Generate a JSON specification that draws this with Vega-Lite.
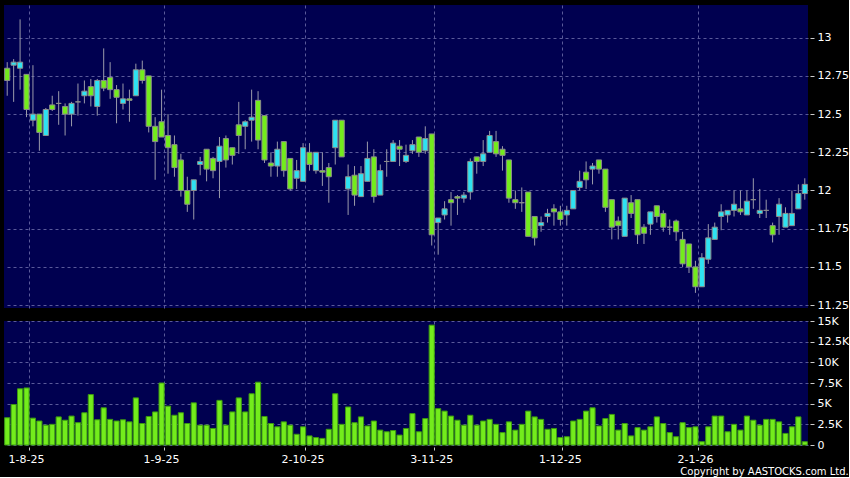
{
  "$schema": "https://vega.github.io/schema/vega-lite/v6.json",
  "background": "#000000",
  "padding": {"left": 4, "top": 5, "right": 0, "bottom": 0},
  "autosize": {"type": "pad"},
  "config": {
    "view": {"fill": "#000050", "stroke": null},
    "font": "DejaVu Sans",
    "axis": {"labelColor": "#ffffff", "labelFont": "DejaVu Sans", "labelFontSize": 11, "gridColor": "#5a5a9a", "gridDash": [3, 3], "gridWidth": 1, "domain": false, "tickColor": "#cccccc", "title": null},
    "concat": {"spacing": 4}
  },
  "title": {"text": "Copyright by AASTOCKS.com Ltd.", "orient": "bottom", "anchor": "end", "color": "#ffffff", "font": "DejaVu Sans", "fontSize": 10, "fontWeight": "normal", "offset": 3},
  "datasets": {
    "k": [
      {"d":"29-7-25","o":12.80,"h":12.84,"l":12.62,"c":12.72,"v":3300},
      {"d":"30-7-25","o":12.82,"h":12.86,"l":12.58,"c":12.84,"v":4900},
      {"d":"31-7-25","o":12.80,"h":13.12,"l":12.66,"c":12.84,"v":6800},
      {"d":"1-8-25","o":12.76,"h":12.76,"l":12.48,"c":12.53,"v":6900},
      {"d":"4-8-25","o":12.46,"h":12.82,"l":12.42,"c":12.50,"v":3250},
      {"d":"5-8-25","o":12.50,"h":12.50,"l":12.26,"c":12.38,"v":2900},
      {"d":"6-8-25","o":12.36,"h":12.54,"l":12.36,"c":12.53,"v":2400},
      {"d":"7-8-25","o":12.56,"h":12.62,"l":12.52,"c":12.53,"v":2500},
      {"d":"8-8-25","o":12.57,"h":12.65,"l":12.43,"c":12.57,"v":3400},
      {"d":"11-8-25","o":12.55,"h":12.57,"l":12.36,"c":12.50,"v":3000},
      {"d":"12-8-25","o":12.50,"h":12.58,"l":12.42,"c":12.57,"v":3500},
      {"d":"13-8-25","o":12.58,"h":12.70,"l":12.49,"c":12.58,"v":2700},
      {"d":"14-8-25","o":12.62,"h":12.72,"l":12.57,"c":12.65,"v":3900},
      {"d":"15-8-25","o":12.68,"h":12.73,"l":12.55,"c":12.62,"v":6100},
      {"d":"18-8-25","o":12.55,"h":12.73,"l":12.49,"c":12.72,"v":3050},
      {"d":"19-8-25","o":12.72,"h":12.93,"l":12.65,"c":12.67,"v":4500},
      {"d":"20-8-25","o":12.74,"h":12.84,"l":12.60,"c":12.66,"v":3100},
      {"d":"21-8-25","o":12.66,"h":12.69,"l":12.44,"c":12.61,"v":2900},
      {"d":"22-8-25","o":12.57,"h":12.70,"l":12.53,"c":12.60,"v":3050},
      {"d":"25-8-25","o":12.60,"h":12.66,"l":12.45,"c":12.59,"v":2800},
      {"d":"26-8-25","o":12.62,"h":12.83,"l":12.62,"c":12.79,"v":5700},
      {"d":"27-8-25","o":12.79,"h":12.85,"l":12.70,"c":12.72,"v":2600},
      {"d":"28-8-25","o":12.75,"h":12.75,"l":12.38,"c":12.42,"v":3450},
      {"d":"29-8-25","o":12.42,"h":12.48,"l":12.07,"c":12.32,"v":4000},
      {"d":"1-9-25","o":12.45,"h":12.66,"l":12.35,"c":12.35,"v":7500},
      {"d":"2-9-25","o":12.36,"h":12.50,"l":12.11,"c":12.28,"v":4700},
      {"d":"3-9-25","o":12.30,"h":12.36,"l":12.09,"c":12.15,"v":3600},
      {"d":"4-9-25","o":12.20,"h":12.24,"l":11.96,"c":12.00,"v":3900},
      {"d":"5-9-25","o":12.00,"h":12.09,"l":11.86,"c":11.91,"v":2600},
      {"d":"8-9-25","o":12.00,"h":12.07,"l":11.81,"c":12.07,"v":5100},
      {"d":"9-9-25","o":12.17,"h":12.22,"l":12.10,"c":12.19,"v":2400},
      {"d":"10-9-25","o":12.27,"h":12.27,"l":12.06,"c":12.14,"v":2400},
      {"d":"11-9-25","o":12.21,"h":12.22,"l":12.08,"c":12.13,"v":2000},
      {"d":"12-9-25","o":12.19,"h":12.35,"l":11.95,"c":12.29,"v":5400},
      {"d":"15-9-25","o":12.34,"h":12.36,"l":12.15,"c":12.20,"v":2400},
      {"d":"16-9-25","o":12.28,"h":12.28,"l":12.17,"c":12.23,"v":4000},
      {"d":"17-9-25","o":12.43,"h":12.58,"l":12.24,"c":12.36,"v":5700},
      {"d":"18-9-25","o":12.42,"h":12.46,"l":12.27,"c":12.45,"v":4000},
      {"d":"19-9-25","o":12.46,"h":12.66,"l":12.32,"c":12.48,"v":6200},
      {"d":"22-9-25","o":12.59,"h":12.65,"l":12.27,"c":12.33,"v":7600},
      {"d":"23-9-25","o":12.49,"h":12.49,"l":12.18,"c":12.20,"v":3450},
      {"d":"24-9-25","o":12.18,"h":12.25,"l":12.09,"c":12.16,"v":2600},
      {"d":"25-9-25","o":12.16,"h":12.32,"l":12.09,"c":12.27,"v":2200},
      {"d":"26-9-25","o":12.32,"h":12.32,"l":12.09,"c":12.13,"v":2800},
      {"d":"29-9-25","o":12.21,"h":12.21,"l":12.00,"c":12.01,"v":2400},
      {"d":"30-9-25","o":12.08,"h":12.20,"l":12.01,"c":12.13,"v":1300},
      {"d":"2-10-25","o":12.06,"h":12.31,"l":12.06,"c":12.28,"v":2200},
      {"d":"3-10-25","o":12.25,"h":12.31,"l":12.13,"c":12.17,"v":1100},
      {"d":"6-10-25","o":12.13,"h":12.25,"l":12.11,"c":12.25,"v":900},
      {"d":"8-10-25","o":12.13,"h":12.25,"l":12.03,"c":12.12,"v":800},
      {"d":"9-10-25","o":12.15,"h":12.18,"l":11.92,"c":12.09,"v":1900},
      {"d":"10-10-25","o":12.28,"h":12.46,"l":12.17,"c":12.46,"v":6200},
      {"d":"13-10-25","o":12.46,"h":12.46,"l":12.22,"c":12.22,"v":2500},
      {"d":"14-10-25","o":12.01,"h":12.17,"l":11.84,"c":12.09,"v":4600},
      {"d":"15-10-25","o":12.10,"h":12.16,"l":11.90,"c":11.97,"v":2700},
      {"d":"16-10-25","o":11.96,"h":12.16,"l":11.96,"c":12.11,"v":3400},
      {"d":"17-10-25","o":12.06,"h":12.32,"l":12.06,"c":12.21,"v":2300},
      {"d":"20-10-25","o":12.22,"h":12.27,"l":11.92,"c":11.96,"v":2900},
      {"d":"21-10-25","o":11.97,"h":12.17,"l":11.97,"c":12.13,"v":1800},
      {"d":"22-10-25","o":12.19,"h":12.27,"l":12.09,"c":12.19,"v":1600},
      {"d":"23-10-25","o":12.19,"h":12.33,"l":12.19,"c":12.31,"v":1750},
      {"d":"24-10-25","o":12.29,"h":12.33,"l":12.16,"c":12.27,"v":1200},
      {"d":"27-10-25","o":12.19,"h":12.30,"l":12.18,"c":12.23,"v":2000},
      {"d":"28-10-25","o":12.26,"h":12.33,"l":12.24,"c":12.30,"v":3800},
      {"d":"30-10-25","o":12.35,"h":12.35,"l":12.22,"c":12.25,"v":1600},
      {"d":"31-10-25","o":12.26,"h":12.42,"l":12.24,"c":12.34,"v":3200},
      {"d":"3-11-25","o":12.37,"h":12.37,"l":11.64,"c":11.71,"v":14500},
      {"d":"4-11-25","o":11.79,"h":11.82,"l":11.58,"c":11.82,"v":4400},
      {"d":"5-11-25","o":11.84,"h":11.93,"l":11.81,"c":11.88,"v":4100},
      {"d":"6-11-25","o":11.94,"h":11.99,"l":11.77,"c":11.92,"v":3500},
      {"d":"7-11-25","o":11.96,"h":11.97,"l":11.84,"c":11.95,"v":3000},
      {"d":"10-11-25","o":11.95,"h":11.99,"l":11.92,"c":11.97,"v":2400},
      {"d":"11-11-25","o":11.99,"h":12.21,"l":11.94,"c":12.19,"v":3600},
      {"d":"12-11-25","o":12.22,"h":12.22,"l":12.11,"c":12.19,"v":2400},
      {"d":"13-11-25","o":12.19,"h":12.33,"l":12.16,"c":12.24,"v":2900},
      {"d":"14-11-25","o":12.25,"h":12.39,"l":12.25,"c":12.36,"v":3100},
      {"d":"17-11-25","o":12.32,"h":12.39,"l":12.22,"c":12.24,"v":2500},
      {"d":"18-11-25","o":12.27,"h":12.29,"l":12.13,"c":12.23,"v":1500},
      {"d":"19-11-25","o":12.20,"h":12.20,"l":11.92,"c":11.95,"v":2800},
      {"d":"20-11-25","o":11.94,"h":12.00,"l":11.88,"c":11.92,"v":1800},
      {"d":"21-11-25","o":11.92,"h":12.02,"l":11.86,"c":11.92,"v":2500},
      {"d":"24-11-25","o":11.99,"h":11.99,"l":11.70,"c":11.70,"v":4100},
      {"d":"25-11-25","o":11.83,"h":11.83,"l":11.64,"c":11.69,"v":3400},
      {"d":"26-11-25","o":11.77,"h":11.83,"l":11.73,"c":11.79,"v":3100},
      {"d":"27-11-25","o":11.83,"h":11.88,"l":11.79,"c":11.85,"v":1900},
      {"d":"28-11-25","o":11.88,"h":11.91,"l":11.77,"c":11.86,"v":2000},
      {"d":"1-12-25","o":11.86,"h":11.90,"l":11.77,"c":11.81,"v":900},
      {"d":"2-12-25","o":11.84,"h":11.90,"l":11.77,"c":11.87,"v":1000},
      {"d":"3-12-25","o":11.88,"h":12.00,"l":11.88,"c":12.00,"v":2900},
      {"d":"4-12-25","o":12.02,"h":12.13,"l":12.00,"c":12.06,"v":3100},
      {"d":"5-12-25","o":12.12,"h":12.19,"l":12.01,"c":12.07,"v":4100},
      {"d":"8-12-25","o":12.14,"h":12.18,"l":12.04,"c":12.16,"v":4500},
      {"d":"9-12-25","o":12.20,"h":12.20,"l":12.11,"c":12.14,"v":2300},
      {"d":"10-12-25","o":12.14,"h":12.14,"l":11.86,"c":11.89,"v":3200},
      {"d":"11-12-25","o":11.94,"h":11.94,"l":11.68,"c":11.76,"v":3700},
      {"d":"12-12-25","o":11.80,"h":11.83,"l":11.68,"c":11.77,"v":1800},
      {"d":"15-12-25","o":11.70,"h":11.95,"l":11.70,"c":11.95,"v":2600},
      {"d":"16-12-25","o":11.92,"h":11.97,"l":11.82,"c":11.85,"v":1100},
      {"d":"17-12-25","o":11.94,"h":11.94,"l":11.65,"c":11.71,"v":2100},
      {"d":"18-12-25","o":11.76,"h":11.78,"l":11.65,"c":11.72,"v":1800},
      {"d":"19-12-25","o":11.78,"h":11.86,"l":11.71,"c":11.86,"v":2200},
      {"d":"22-12-25","o":11.90,"h":11.90,"l":11.79,"c":11.83,"v":3400},
      {"d":"23-12-25","o":11.85,"h":11.87,"l":11.73,"c":11.76,"v":2600},
      {"d":"24-12-25","o":11.76,"h":11.81,"l":11.71,"c":11.76,"v":1500},
      {"d":"29-12-25","o":11.80,"h":11.81,"l":11.67,"c":11.73,"v":1000},
      {"d":"30-12-25","o":11.68,"h":11.73,"l":11.50,"c":11.52,"v":2700},
      {"d":"31-12-25","o":11.65,"h":11.65,"l":11.46,"c":11.50,"v":2100},
      {"d":"2-1-26","o":11.50,"h":11.54,"l":11.33,"c":11.37,"v":2200},
      {"d":"5-1-26","o":11.37,"h":11.59,"l":11.37,"c":11.56,"v":400},
      {"d":"6-1-26","o":11.55,"h":11.78,"l":11.52,"c":11.69,"v":2200},
      {"d":"7-1-26","o":11.68,"h":11.79,"l":11.68,"c":11.76,"v":3500},
      {"d":"8-1-26","o":11.83,"h":11.91,"l":11.74,"c":11.86,"v":3500},
      {"d":"9-1-26","o":11.84,"h":11.87,"l":11.79,"c":11.87,"v":1600},
      {"d":"12-1-26","o":11.87,"h":12.00,"l":11.83,"c":11.91,"v":2500},
      {"d":"13-1-26","o":11.88,"h":12.00,"l":11.84,"c":11.86,"v":1800},
      {"d":"14-1-26","o":11.84,"h":12.00,"l":11.84,"c":11.93,"v":3500},
      {"d":"15-1-26","o":11.94,"h":12.08,"l":11.88,"c":11.94,"v":3000},
      {"d":"16-1-26","o":11.85,"h":12.01,"l":11.82,"c":11.87,"v":2400},
      {"d":"19-1-26","o":11.87,"h":11.94,"l":11.82,"c":11.87,"v":3100},
      {"d":"20-1-26","o":11.77,"h":11.79,"l":11.66,"c":11.71,"v":3100},
      {"d":"21-1-26","o":11.83,"h":11.95,"l":11.71,"c":11.91,"v":2800},
      {"d":"22-1-26","o":11.76,"h":11.89,"l":11.76,"c":11.85,"v":1400},
      {"d":"23-1-26","o":11.77,"h":12.00,"l":11.77,"c":11.85,"v":2200},
      {"d":"26-1-26","o":11.88,"h":12.04,"l":11.88,"c":11.98,"v":3400},
      {"d":"27-1-26","o":11.98,"h":12.08,"l":11.94,"c":12.04,"v":400}
    ]
  },
  "vconcat": [
    {
      "width": 804,
      "height": 303,
      "data": {"name": "k"},
      "encoding": {
        "x": {
          "field": "d", "type": "ordinal", "sort": null,
          "scale": {"paddingInner": 0.2, "paddingOuter": 0.1},
          "axis": {"values": ["1-8-25", "1-9-25", "2-10-25", "3-11-25", "1-12-25", "2-1-26"], "labels": false, "ticks": false, "grid": true, "bandPosition": 1, "title": null}
        }
      },
      "layer": [
        {
          "mark": {"type": "rule", "color": "#9a9aaa", "strokeWidth": 1},
          "encoding": {
            "y": {
              "field": "l", "type": "quantitative",
              "scale": {"domain": [11.231, 13.214], "nice": false, "zero": false},
              "axis": {"orient": "right", "values": [11.25, 11.5, 11.75, 12, 12.25, 12.5, 12.75, 13], "labelExpr": "'' + datum.value", "tickSize": 4, "offset": 2, "labelPadding": 3, "grid": true, "title": null}
            },
            "y2": {"field": "h"}
          }
        },
        {
          "mark": {"type": "bar", "stroke": "#8c8c8c", "strokeWidth": 1},
          "encoding": {
            "y": {"field": "o", "type": "quantitative"},
            "y2": {"field": "c"},
            "fill": {
              "condition": [
                {"test": "datum.c > datum.o", "value": "#2ee2f2"},
                {"test": "datum.c < datum.o", "value": "#73ec1c"}
              ],
              "value": "#9a9a9a"
            }
          }
        }
      ]
    },
    {
      "width": 804,
      "height": 124,
      "data": {"name": "k"},
      "mark": {"type": "bar", "fill": "#73ec1c", "stroke": "#3c9a10", "strokeWidth": 1},
      "encoding": {
        "x": {
          "field": "d", "type": "ordinal", "sort": null,
          "scale": {"paddingInner": 0.2, "paddingOuter": 0.1},
          "axis": {"values": ["1-8-25", "1-9-25", "2-10-25", "3-11-25", "1-12-25", "2-1-26"], "labelAngle": 0, "ticks": true, "tickSize": 3, "offset": 2, "labelPadding": 3, "grid": true, "bandPosition": 1, "title": null}
        },
        "y": {
          "field": "v", "type": "quantitative",
          "scale": {"domain": [0, 15000], "nice": false},
          "axis": {"orient": "right", "values": [0, 2500, 5000, 7500, 10000, 12500, 15000], "labelExpr": "datum.value == 0 ? '0' : (datum.value / 1000) + 'K'", "tickSize": 4, "offset": 2, "labelPadding": 3, "grid": true, "title": null}
        }
      }
    }
  ]
}
